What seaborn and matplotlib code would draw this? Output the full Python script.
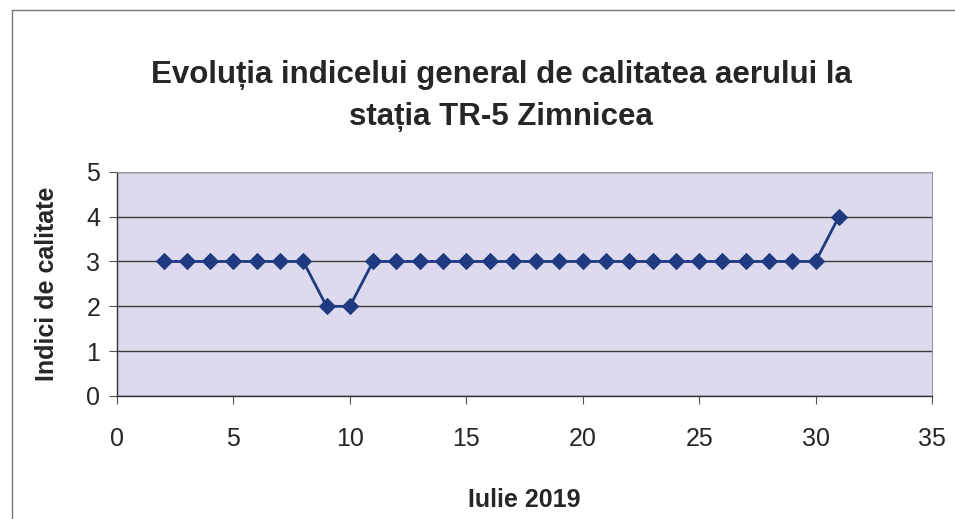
import matplotlib
matplotlib.use("Agg")
import matplotlib.pyplot as plt
import seaborn as sns
import pandas as pd

# ===============================
# DATA
# ===============================
zile = list(range(2, 32))
indici = [3, 3, 3, 3, 3, 3, 3, 2, 2, 3, 3, 3, 3, 3, 3, 3, 3, 3, 3, 3,
          3, 3, 3, 3, 3, 3, 3, 3, 3, 4]
x_ticks = [0, 5, 10, 15, 20, 25, 30, 35]
y_ticks = [0, 1, 2, 3, 4, 5]

df = pd.DataFrame({"zi": zile, "indice": indici})

sns.set_style("white")
plt.rcParams["font.family"] = ["Liberation Sans", "DejaVu Sans"]

fig = plt.figure(figsize=(9.55, 5.19), dpi=100)
ax = fig.add_axes([0.1225, 0.237, 0.8535, 0.432])
ax.set_facecolor("#dddaee")

sns.lineplot(data=df, x="zi", y="indice", ax=ax, color="#1f3a80",
             marker="D", markersize=8, markeredgecolor="#1f3a80",
             linewidth=2)

ax.set_xlim(0, 35)
ax.set_ylim(0, 5)
ax.set_xticks(x_ticks)
ax.set_yticks(y_ticks)
ax.yaxis.grid(True, color="#3a3a3a", linewidth=1)
ax.set_axisbelow(True)
ax.tick_params(axis="x", labelsize=18, length=6, pad=16, direction="out",
               bottom=True, color="#555555")
ax.tick_params(axis="y", labelsize=18, length=6, pad=6, direction="out",
               left=True, color="#555555")

for side in ["top", "right"]:
    ax.spines[side].set_color("#999999")
    ax.spines[side].set_linewidth(0.8)
for side in ["left", "bottom"]:
    ax.spines[side].set_color("#333333")
    ax.spines[side].set_linewidth(1)

ax.set_xlabel("Iulie 2019", fontsize=18, fontweight="bold", labelpad=27)
ax.set_ylabel("Indici de calitate", fontsize=18, fontweight="bold", labelpad=20)

fig.text(0.525, 0.815, "Evoluția indicelui general de calitatea aerului la\nstația TR-5 Zimnicea",
         ha="center", va="center", fontsize=22.5, fontweight="bold",
         linespacing=1.55)

# chenar exterior
fig.add_artist(plt.Line2D([0.013, 0.013], [0, 0.98], color="#777777",
                          linewidth=1, transform=fig.transFigure))
fig.add_artist(plt.Line2D([0.013, 1.0], [0.98, 0.98], color="#777777",
                          linewidth=1, transform=fig.transFigure))

fig.savefig("out.png", dpi=100)
plt.close(fig)
